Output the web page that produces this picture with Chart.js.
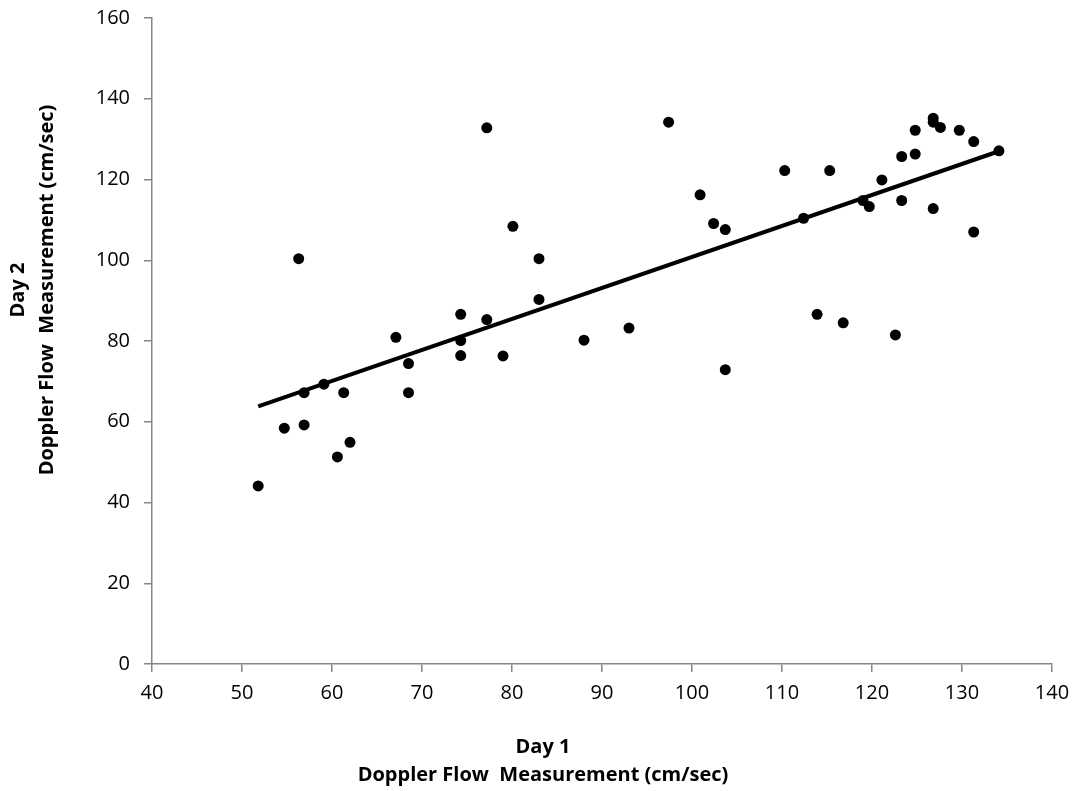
<!DOCTYPE html>
<html lang="en">
<head>
    <meta charset="UTF-8">
    <title>Doppler Flow Day 1 vs Day 2</title>
    <script src="https://cdn.jsdelivr.net/npm/chart.js"></script>
    <style>
        html, body {
            margin: 0;
            padding: 0;
            background: #ffffff;
        }
        #wrap {
            width: 1080px;
            height: 791px;
        }
    </style>
</head>
<body>
    <div id="wrap"><canvas id="scatter"></canvas></div>

    <script>
        // Day 1 / Day 2 readings (cm/sec)
        const day1 = [
            51.8, 54.7, 56.9, 56.9, 56.3, 59.1, 60.6, 61.3, 62.0, 67.1,
            68.5, 68.5, 74.3, 74.3, 74.3, 77.2, 77.2, 79.0, 80.1, 83.0,
            83.0, 88.0, 93.0, 97.4, 100.9, 102.4, 103.7, 103.7, 110.3, 112.4,
            113.9, 115.3, 116.8, 119.0, 119.7, 121.1, 122.6, 123.3, 123.3, 124.8,
            124.8, 126.8, 126.8, 127.6, 126.8, 129.7, 131.3, 131.3, 134.1
        ];
        const day2 = [
            44.1, 58.4, 59.2, 67.2, 100.4, 69.3, 51.3, 67.2, 54.9, 80.9,
            74.4, 67.2, 86.6, 80.1, 76.4, 85.3, 132.8, 76.3, 108.4, 100.4,
            90.3, 80.2, 83.2, 134.2, 116.2, 109.1, 107.6, 72.9, 122.2, 110.4,
            86.6, 122.2, 84.5, 114.8, 113.3, 119.9, 81.5, 125.7, 114.8, 132.2,
            126.3, 135.2, 134.2, 132.9, 112.8, 132.2, 129.4, 107.0, 127.1
        ];

        // Trend line end points as drawn in the reference
        const trendX = [51.8, 134.1];
        const trendY = [63.8, 127.0];

        const xTicks = [40, 50, 60, 70, 80, 90, 100, 110, 120, 130, 140];
        const yTicks = [0, 20, 40, 60, 80, 100, 120, 140, 160];

        const xTitle = ['Day 1', 'Doppler Flow  Measurement (cm/sec)'];
        const yTitle = ['Day 2', 'Doppler Flow  Measurement (cm/sec)'];

        const points = day1.map((x, i) => ({ x: x, y: day2[i] }));
        const trend = trendX.map((x, i) => ({ x: x, y: trendY[i] }));

        const axisColor = '#868686';
        const tickFont = { family: 'Open Sans', size: 20 };

        // Axis titles sit off the plot centre in the reference, so draw them by hand
        const axisTitles = {
            id: 'axisTitles',
            afterDraw(chart) {
                const ctx = chart.ctx;
                ctx.save();
                ctx.fillStyle = '#000000';
                ctx.font = 'bold 20px "Open Sans"';
                ctx.textAlign = 'center';
                ctx.textBaseline = 'middle';
                ctx.fillText(xTitle[0], 543, 747);
                ctx.fillText(xTitle[1], 543, 775);

                ctx.rotate(-Math.PI / 2);
                ctx.fillText(yTitle[0], -290, 18);
                ctx.fillText(yTitle[1], -290, 47);
                ctx.restore();
            }
        };

        function makeTicks(values) {
            return function (scale) {
                scale.ticks = values.map(v => ({ value: v }));
            };
        }

        new Chart(document.getElementById('scatter'), {
            type: 'scatter',
            data: {
                datasets: [
                    {
                        label: 'Measurements',
                        data: points,
                        backgroundColor: '#000000',
                        borderWidth: 0,
                        pointRadius: 5.5,
                        pointHoverRadius: 5.5
                    },
                    {
                        label: 'Trend',
                        data: trend,
                        showLine: true,
                        borderColor: '#000000',
                        borderWidth: 4,
                        pointRadius: 0,
                        fill: false
                    }
                ]
            },
            options: {
                responsive: true,
                maintainAspectRatio: false,
                animation: false,
                layout: {
                    padding: { top: 18, right: 28, left: 0, bottom: 0 }
                },
                plugins: {
                    legend: { display: false },
                    tooltip: { enabled: false }
                },
                scales: {
                    x: {
                        type: 'linear',
                        min: 40,
                        max: 140,
                        afterBuildTicks: makeTicks(xTicks),
                        afterFit(scale) { scale.height = 127; },
                        border: { color: axisColor, width: 1.5 },
                        grid: { drawOnChartArea: false, color: axisColor, tickLength: 8, lineWidth: 1.5 },
                        ticks: { color: '#000000', font: tickFont, padding: 9, maxRotation: 0 }
                    },
                    y: {
                        type: 'linear',
                        min: 0,
                        max: 160,
                        afterBuildTicks: makeTicks(yTicks),
                        afterFit(scale) {
                            scale.width = 152;
                            scale.paddingTop = 0;
                            scale.paddingBottom = 0;
                        },
                        border: { color: axisColor, width: 1.5 },
                        grid: { drawOnChartArea: false, color: axisColor, tickLength: 8, lineWidth: 1.5 },
                        ticks: { color: '#000000', font: tickFont, padding: 14 }
                    }
                }
            },
            plugins: [axisTitles]
        });
    </script>
</body>
</html>
